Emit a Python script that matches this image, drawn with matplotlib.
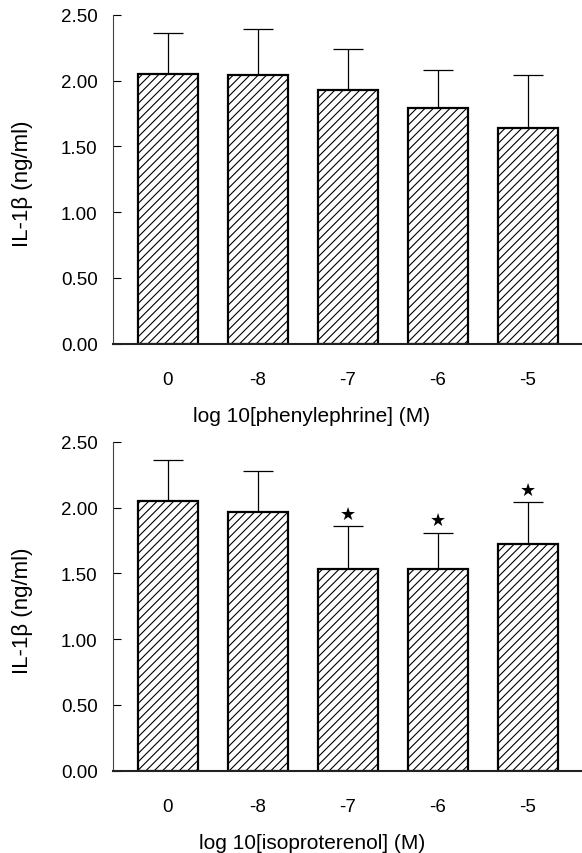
import matplotlib
matplotlib.use("Agg")
import matplotlib.pyplot as plt
import numpy as np

# -------------------------------
# DATA
# -------------------------------

doses = ["0", "-8", "-7", "-6", "-5"]

phe_mean = [2.05, 2.04, 1.93, 1.79, 1.64]
phe_err = [0.31, 0.35, 0.31, 0.29, 0.40]
phe_sig = [False, False, False, False, False]

iso_mean = [2.05, 1.97, 1.53, 1.53, 1.72]
iso_err = [0.31, 0.31, 0.33, 0.28, 0.32]
iso_sig = [False, False, True, True, True]

plt.rcParams["font.family"] = ["Liberation Sans", "DejaVu Sans"]
plt.rcParams["hatch.linewidth"] = 0.8

fig = plt.figure(figsize=(5.82, 8.54), dpi=100)
W, H = 582, 854


def make_axes(top_px, zero_px):
    return fig.add_axes([113 / W, 1 - zero_px / H, 1 - 113 / W, (zero_px - top_px) / H])


def draw_panel(ax, mean, err, sig, xlabel):
    x = np.arange(len(doses))
    ax.errorbar(x, mean, yerr=[np.zeros(len(err)), err], fmt="none",
                ecolor="black", elinewidth=0.9, capsize=11, capthick=0.9, zorder=1)
    ax.bar(x, mean, width=0.67, facecolor="white", edgecolor="black",
           linewidth=1.6, hatch="////", zorder=2)
    for xi, m, e, s in zip(x, mean, err, sig):
        if s:
            ax.annotate("\u2605", xy=(xi, m + e), xytext=(0, 9),
                        textcoords="offset points", ha="center", va="center",
                        fontsize=13, family=["DejaVu Sans"])
    ax.set_xlim(-0.61, 4.6)
    ax.set_ylim(0, 2.5)
    ax.set_yticks([0, 0.5, 1.0, 1.5, 2.0, 2.5])
    ax.set_yticklabels(["0.00", "0.50", "1.00", "1.50", "2.00", "2.50"])
    ax.set_xticks(x)
    ax.set_xticklabels(doses)
    ax.tick_params(axis="y", direction="in", length=6, width=0.8, pad=11, labelsize=13.5)
    ax.tick_params(axis="x", length=0, pad=20, labelsize=13.5)
    ax.spines["top"].set_visible(False)
    ax.spines["right"].set_visible(False)
    ax.spines["left"].set_linewidth(0.8)
    ax.spines["left"].set_color("#444444")
    ax.spines["bottom"].set_linewidth(1.5)
    ax.spines["bottom"].set_color("#222222")
    ax.set_ylabel("IL-1\u03b2 (ng/ml)", fontsize=16)
    ax.yaxis.set_label_coords(-(113 - 33) / 469, 0.49)
    ax.set_xlabel(xlabel, fontsize=15, va="top")
    ax.xaxis.set_label_coords((312 - 113) / 469, -0.19)


ax1 = make_axes(16, 344.5)
draw_panel(ax1, phe_mean, phe_err, phe_sig, "log 10[phenylephrine] (M)")

ax2 = make_axes(443, 771.5)
draw_panel(ax2, iso_mean, iso_err, iso_sig, "log 10[isoproterenol] (M)")

fig.savefig("out.png", dpi=100)
